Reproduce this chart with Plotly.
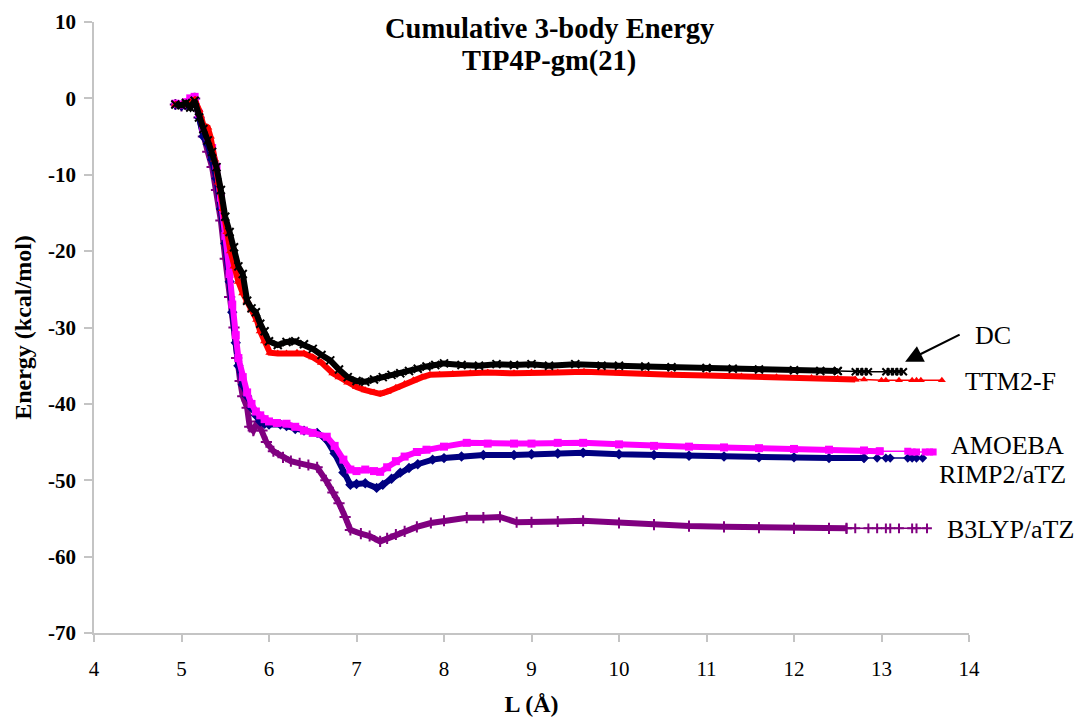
import plotly.graph_objects as go

# ---------------- data ----------------
dc_x = [4.93, 5.0, 5.05, 5.1, 5.15, 5.2, 5.25, 5.3, 5.35, 5.4, 5.45, 5.5, 5.55, 5.6, 5.65, 5.7, 5.75, 5.8,
        5.85, 5.9, 5.95, 6.0, 6.1, 6.2, 6.3, 6.4, 6.5, 6.6, 6.7, 6.8, 6.9, 7.0, 7.1, 7.2, 7.3, 7.4, 7.5,
        7.6, 7.7, 7.8, 7.9, 8.0, 8.2, 8.4, 8.6, 8.8, 9.0, 9.2, 9.5, 9.8, 10.0, 10.3, 10.6, 11.0, 11.3,
        11.6, 12.0, 12.3, 12.5, 12.7, 12.75, 12.8, 12.85, 13.05, 13.1, 13.15, 13.2, 13.25]
dc_y = [-0.8, -0.9, -0.6, -1.2, -0.3, -2.5, -4.0, -5.5, -7.0, -9.0, -12.0, -15.5, -17.5, -19.5, -22.0,
        -23.0, -26.5, -27.5, -28.0, -29.5, -30.5, -31.8, -32.3, -31.9, -31.8, -32.2, -32.8, -33.6,
        -34.3, -35.5, -36.5, -37.0, -37.1, -36.8, -36.5, -36.2, -36.0, -35.7, -35.4, -35.1, -34.9,
        -34.7, -34.9, -35.0, -34.8, -34.9, -34.8, -35.0, -34.8, -35.0, -35.0, -35.1, -35.2, -35.3,
        -35.4, -35.5, -35.6, -35.7, -35.7, -35.8, -35.8, -35.8, -35.8, -35.8, -35.8, -35.8, -35.8, -35.8]

ttm_x = [4.93, 5.0, 5.1, 5.15, 5.2, 5.25, 5.3, 5.33, 5.38, 5.42, 5.47, 5.52, 5.56, 5.6, 5.65, 5.7,
         5.75, 5.8, 5.86, 5.9, 5.95, 6.01, 6.1, 6.2, 6.32, 6.4, 6.5, 6.6, 6.73, 6.8, 6.9, 7.0, 7.1,
         7.2, 7.27, 7.35, 7.45, 7.55, 7.65, 7.75, 7.84, 7.95, 8.1, 8.3, 8.5, 8.8, 9.0, 9.3, 9.6, 10.0,
         10.3, 10.6, 11.0, 11.4, 11.8, 12.2, 12.5, 12.7, 12.8, 13.0, 13.05, 13.2, 13.35, 13.4, 13.45,
         13.69]
ttm_y = [-0.8, -0.9, -0.5, -0.2, -1.5, -3.5, -3.8, -5.0, -8.0, -11.0, -14.5, -17.5, -20.0, -22.0,
         -24.0, -25.5, -26.5, -27.5, -29.0, -30.5, -31.8, -33.3, -33.4, -33.4, -33.3, -33.4, -33.9,
         -34.6, -36.0, -36.5, -37.2, -37.8, -38.2, -38.5, -38.7, -38.4, -37.9, -37.4, -36.9, -36.5,
         -36.2, -36.2, -36.1, -36.0, -35.9, -36.0, -35.9, -35.9, -35.8, -36.0, -36.1, -36.2, -36.3,
         -36.4, -36.5, -36.6, -36.7, -36.8, -36.8, -36.9, -36.9, -36.9, -36.9, -36.9, -36.9, -36.9]

amo_x = [4.93, 5.0, 5.05, 5.1, 5.15, 5.2, 5.25, 5.3, 5.35, 5.4, 5.45, 5.5, 5.55, 5.58, 5.62, 5.65,
         5.7, 5.75, 5.8, 5.85, 5.9, 5.95, 6.0, 6.09, 6.2, 6.3, 6.4, 6.5, 6.66, 6.75, 6.85, 6.93, 7.0,
         7.1, 7.2, 7.27, 7.35, 7.45, 7.55, 7.69, 7.8, 8.0, 8.26, 8.5, 8.8, 9.0, 9.3, 9.59, 10.0, 10.4,
         10.8, 11.2, 11.6, 12.0, 12.4, 12.8, 12.98, 13.3, 13.35, 13.4, 13.5, 13.55, 13.59]
amo_y = [-0.7, -0.8, -0.5, 0.0, 0.2, -2.0, -4.0, -5.0, -6.5, -9.0, -13.0, -18.0, -23.0, -27.0, -31.0,
         -34.0, -36.5, -38.5, -40.0, -41.0, -41.5, -42.0, -42.3, -42.5, -42.6, -43.0, -43.5, -43.8,
         -44.3, -45.5, -47.3, -48.6, -48.8, -48.6, -48.8, -48.9, -48.3, -47.5, -46.9, -46.3, -46.0,
         -45.6, -45.1, -45.2, -45.2, -45.2, -45.1, -45.1, -45.3, -45.5, -45.6, -45.7, -45.8, -45.9,
         -46.0, -46.1, -46.2, -46.2, -46.3, -46.3, -46.3, -46.3, -46.3]

rimp_x = [4.93, 5.0, 5.05, 5.1, 5.15, 5.2, 5.25, 5.3, 5.35, 5.4, 5.45, 5.5, 5.55, 5.58, 5.62, 5.65,
          5.7, 5.75, 5.8, 5.85, 5.9, 5.95, 6.0, 6.13, 6.2, 6.3, 6.4, 6.55, 6.65, 6.75, 6.85, 6.93,
          7.0, 7.1, 7.23, 7.3, 7.4, 7.5, 7.6, 7.7, 7.87, 8.0, 8.2, 8.45, 8.8, 9.0, 9.3, 9.59, 10.0,
          10.4, 10.8, 11.2, 11.6, 12.0, 12.4, 12.8, 12.95, 13.05, 13.1, 13.3, 13.35, 13.4, 13.47]
rimp_y = [-0.8, -1.0, -0.8, -0.2, 0.0, -2.5, -5.0, -6.0, -8.0, -10.5, -14.5, -19.0, -24.0, -28.0,
          -32.0, -35.0, -37.5, -39.0, -40.5, -41.5, -42.3, -42.6, -42.7, -42.7, -42.9, -43.3, -43.5,
          -43.8, -44.6, -46.5, -49.0, -50.6, -50.5, -50.4, -51.0, -50.6, -49.8, -49.0, -48.4, -47.9,
          -47.3, -47.1, -46.9, -46.7, -46.7, -46.6, -46.5, -46.4, -46.6, -46.7, -46.8, -46.9, -47.0,
          -47.0, -47.1, -47.1, -47.1, -47.1, -47.1, -47.1, -47.1, -47.1, -47.1]

b3_x = [4.93, 5.0, 5.05, 5.1, 5.15, 5.2, 5.25, 5.3, 5.35, 5.4, 5.45, 5.5, 5.55, 5.6, 5.63, 5.67, 5.7,
        5.75, 5.78, 5.82, 5.87, 5.92, 5.97, 6.05, 6.16, 6.25, 6.35, 6.45, 6.55, 6.65, 6.73, 6.8, 6.87,
        6.93, 7.05, 7.15, 7.27, 7.35, 7.45, 7.55, 7.69, 7.85, 8.0, 8.26, 8.45, 8.64, 8.83, 9.0, 9.3,
        9.59, 10.0, 10.4, 10.8, 11.2, 11.6, 12.0, 12.4, 12.6, 12.7, 12.85, 12.95, 13.05, 13.1, 13.2,
        13.35, 13.4, 13.52]
b3_y = [-0.8, -1.0, -0.8, -0.3, 0.0, -2.5, -5.0, -7.0, -9.0, -12.0, -16.0, -21.0, -26.0, -30.0,
        -34.0, -37.0, -39.0, -40.5, -43.0, -43.5, -42.3, -43.5, -45.0, -46.2, -47.0, -47.5, -47.8,
        -48.0, -48.3, -50.0, -51.6, -53.0, -54.8, -56.5, -57.0, -57.3, -58.0, -57.6, -57.1, -56.7,
        -56.1, -55.6, -55.3, -54.9, -54.9, -54.8, -55.5, -55.5, -55.4, -55.3, -55.6, -55.8, -56.0,
        -56.1, -56.2, -56.3, -56.3, -56.3, -56.3, -56.3, -56.3, -56.3, -56.3, -56.3, -56.3, -56.3,
        -56.3]

names = ["B3LYP/aTZ", "RIMP2/aTZ", "AMOEBA", "TTM2-F", "DC"]
series_x = [b3_x, rimp_x, amo_x, ttm_x, dc_x]
series_y = [b3_y, rimp_y, amo_y, ttm_y, dc_y]
colors = ["#800080", "#000080", "#FF00FF", "#FF0000", "#000000"]
symbols = ["cross-thin", "diamond", "square", "triangle-up", "x-thin"]
tail_start = [12.6, 12.8, 12.98, 12.7, 12.5]

# label positions in data units (they sit right of the plotted range)
label_x = [14.47, 14.38, 14.44, 14.47, 14.27]
label_y = [-56.4, -49.2, -45.5, -37.1, -31.0]

x_tickvals = [4, 5, 6, 7, 8, 9, 10, 11, 12, 13, 14]
x_ticktext = ["4", "5", "6", "7", "8", "9", "10", "11", "12", "13", "14"]
y_tickvals = [10, 0, -10, -20, -30, -40, -50, -60, -70]
y_ticktext = ["10", "0", "-10", "-20", "-30", "-40", "-50", "-60", "-70"]

X_RANGE = [4, 14]
Y_RANGE = [-70, 10]
FONT = "Liberation Serif"


def to_paper_x(v):
    return (v - X_RANGE[0]) / (X_RANGE[1] - X_RANGE[0])


def to_paper_y(v):
    return (v - Y_RANGE[0]) / (Y_RANGE[1] - Y_RANGE[0])


fig = go.Figure()
for xs, ys, c, s, ts, n in zip(series_x, series_y, colors, symbols, tail_start, names):
    body = [(x, y) for x, y in zip(xs, ys) if x <= ts]
    tail = [(x, y) for x, y in zip(xs, ys) if x >= ts]
    mline = dict(width=2, color=c) if "thin" in s else dict(width=0)
    fig.add_trace(go.Scatter(
        x=[p[0] for p in tail], y=[p[1] for p in tail], mode="lines+markers", name=n,
        line=dict(color=c, width=1.5),
        marker=dict(symbol=s, size=7, color=c, line=mline), showlegend=False))
    fig.add_trace(go.Scatter(
        x=[p[0] for p in body], y=[p[1] for p in body], mode="lines+markers", name=n,
        line=dict(color=c, width=6, shape="linear"),
        marker=dict(symbol=s, size=8, color=c, line=mline), showlegend=False))

annotations = []
for n, lx, ly in zip(names, label_x, label_y):
    annotations.append(dict(x=to_paper_x(lx), y=to_paper_y(ly), xref="paper", yref="paper",
                            xanchor="center", yanchor="middle", text=n, showarrow=False,
                            font=dict(family=FONT, size=26, color="#000000")))
# arrow pointing at DC
annotations.append(dict(x=13.27, y=-34.5, xref="x", yref="y", ax=56, ay=-28, text="",
                        showarrow=True, arrowhead=2, arrowsize=1.6, arrowwidth=2.2,
                        arrowcolor="#000000"))
# title
annotations.append(dict(x=0.52, y=0.989, xref="paper", yref="paper", xanchor="center", yanchor="middle",
                        text="<b>Cumulative 3-body Energy</b>",
                        showarrow=False, font=dict(family=FONT, size=28.5, color="#000000")))
annotations.append(dict(x=0.52, y=0.936, xref="paper", yref="paper", xanchor="center", yanchor="middle",
                        text="<b>TIP4P-gm(21)</b>",
                        showarrow=False, font=dict(family=FONT, size=28.5, color="#000000")))

fig.update_layout(
    width=1086, height=723,
    margin=dict(l=94, r=117, t=22, b=90),
    paper_bgcolor="white", plot_bgcolor="white",
    annotations=annotations,
    font=dict(family=FONT, color="#000000"),
)
fig.update_xaxes(
    range=X_RANGE, tickvals=x_tickvals, ticktext=x_ticktext, showgrid=False, zeroline=False,
    automargin=False,
    showline=True, linecolor="#c4c4c4", linewidth=1.5,
    ticks="outside", ticklen=7, tickcolor="#c4c4c4", tickwidth=1.5,
    ticklabelstandoff=9,
    tickfont=dict(family=FONT, size=21, color="#000000"),
    title=dict(text="<b>L (Å)</b>", font=dict(family=FONT, size=24, color="#000000"), standoff=15),
)
fig.update_yaxes(
    range=Y_RANGE, tickvals=y_tickvals, ticktext=y_ticktext, showgrid=False, zeroline=False,
    automargin=False,
    showline=True, linecolor="#c4c4c4", linewidth=1.5,
    ticks="outside", ticklen=8, tickcolor="#c4c4c4", tickwidth=1.5,
    ticklabelstandoff=4,
    tickfont=dict(family=FONT, size=21, color="#000000", weight="bold"),
    title=dict(text="<b>Energy (kcal/mol)</b>", font=dict(family=FONT, size=24, color="#000000"), standoff=10),
)

fig.write_html("out.html")
